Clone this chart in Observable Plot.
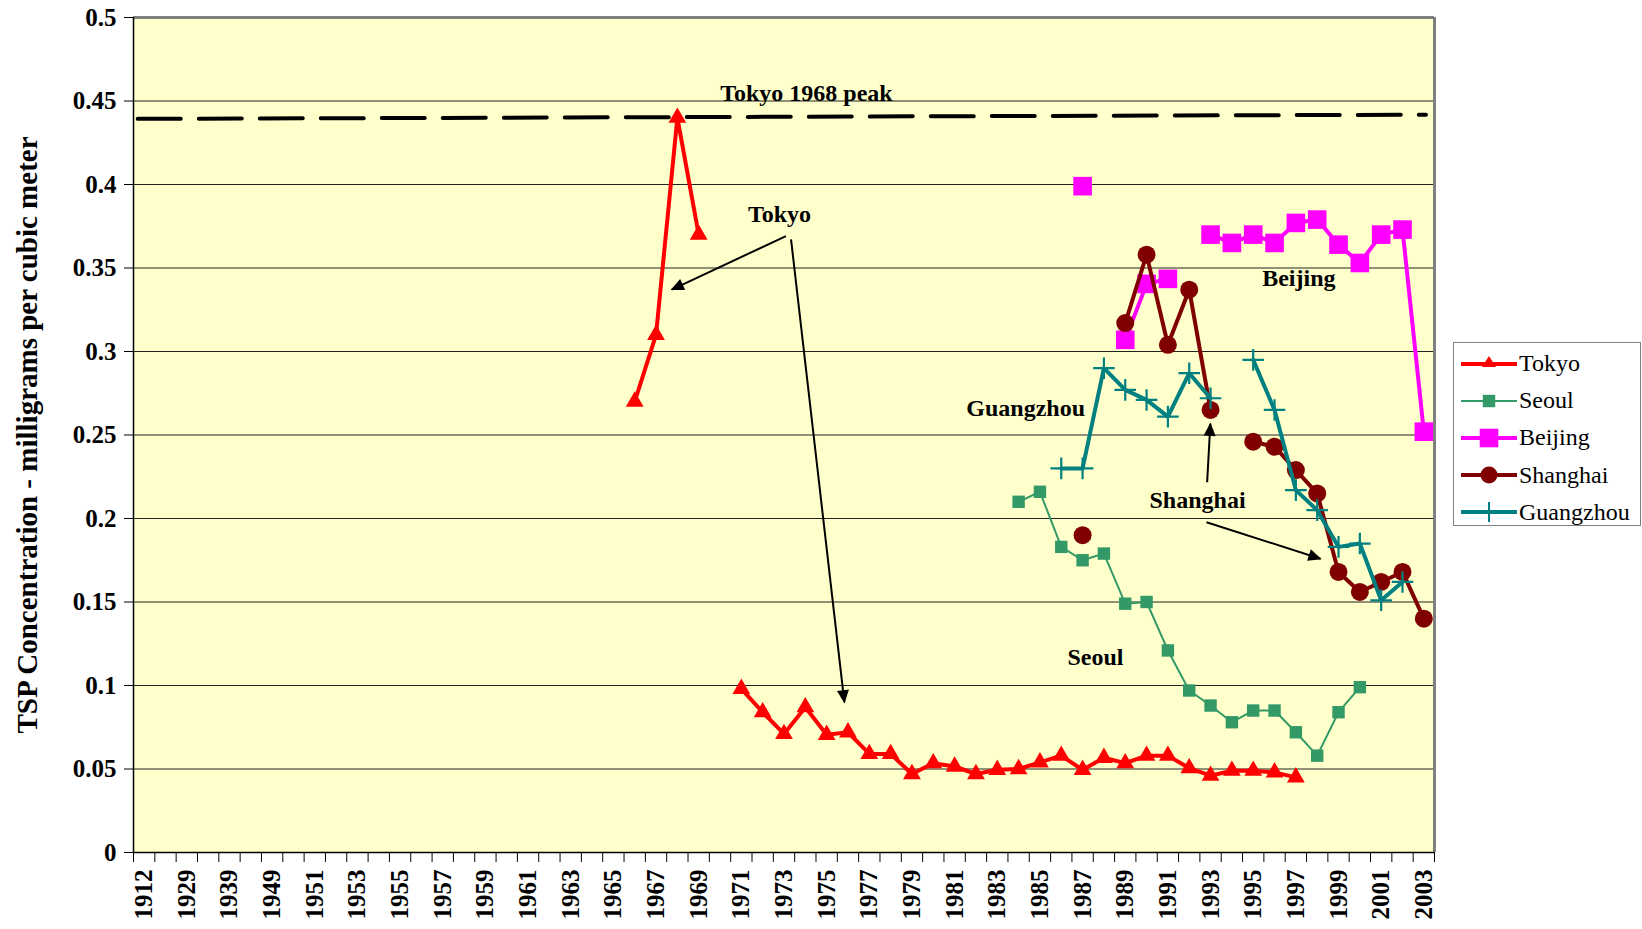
<!DOCTYPE html>
<html>
<head>
<meta charset="utf-8">
<script src="https://cdn.jsdelivr.net/npm/d3@7"></script>
<script src="https://cdn.jsdelivr.net/npm/@observablehq/plot@0.6"></script>
<style>
  body { margin: 0; background: #ffffff; }
  #wrap { position: relative; width: 1642px; height: 929px; }
  #legend {
    position: absolute; left: 1453px; top: 342px; width: 188px; height: 184px;
    box-sizing: border-box; border: 1.5px solid #808080; background: #ffffff;
    font-family: "Liberation Serif", "Times New Roman", serif; font-size: 24px; color: #000;
    padding-top: 2px;
  }
  .row { display: flex; align-items: center; height: 37.2px; }
  .row svg { margin-left: 7px; margin-right: 2px; flex: none; }
</style>
</head>
<body>
<div id="wrap"></div>
<script>
// ---------------- data ----------------
const categories = ["1912","1920","1929","1935","1939","1945","1949","1950","1951","1952","1953","1954","1955","1956","1957","1958","1959","1960","1961","1962","1963","1964","1965","1966","1967","1968","1969","1970","1971","1972","1973","1974","1975","1976","1977","1978","1979","1980","1981","1982","1983","1984","1985","1986","1987","1988","1989","1990","1991","1992","1993","1994","1995","1996","1997","1998","1999","2000","2001","2002","2003"];
const xTickLabels = ["1912","1929","1939","1949","1951","1953","1955","1957","1959","1961","1963","1965","1967","1969","1971","1973","1975","1977","1979","1981","1983","1985","1987","1989","1991","1993","1995","1997","1999","2001","2003"];
const yTicks = [0, 0.05, 0.1, 0.15, 0.2, 0.25, 0.3, 0.35, 0.4, 0.45, 0.5];
const yTickLabels = ["0","0.05","0.1","0.15","0.2","0.25","0.3","0.35","0.4","0.45","0.5"];
const yLabel = "TSP Concentration - milligrams per cubic meter";

const tokyo = [[1966,0.270],[1967,0.310],[1968,0.440],[1969,0.370],[1970,null],[1971,0.098],[1972,0.084],[1973,0.071],[1974,0.087],[1975,0.0705],[1976,0.072],[1977,0.059],[1978,0.059],[1979,0.047],[1980,0.0535],[1981,0.0515],[1982,0.047],[1983,0.0495],[1984,0.050],[1985,0.054],[1986,0.058],[1987,0.0495],[1988,0.0567],[1989,0.0535],[1990,0.058],[1991,0.058],[1992,0.0505],[1993,0.046],[1994,0.049],[1995,0.049],[1996,0.048],[1997,0.045]];
const seoul = [[1984,0.210],[1985,0.216],[1986,0.183],[1987,0.175],[1988,0.179],[1989,0.149],[1990,0.150],[1991,0.121],[1992,0.097],[1993,0.088],[1994,0.078],[1995,0.085],[1996,0.085],[1997,0.072],[1998,0.058],[1999,0.084],[2000,0.099]];
const beijing = [[1987,0.399],[1988,null],[1989,0.307],[1990,0.3405],[1991,0.3435],[1992,null],[1993,0.370],[1994,0.365],[1995,0.370],[1996,0.365],[1997,0.377],[1998,0.379],[1999,0.364],[2000,0.353],[2001,0.370],[2002,0.373],[2003,0.252]];
const shanghai = [[1987,0.190],[1988,null],[1989,0.317],[1990,0.358],[1991,0.304],[1992,0.337],[1993,0.265],[1994,null],[1995,0.246],[1996,0.243],[1997,0.229],[1998,0.215],[1999,0.168],[2000,0.156],[2001,0.162],[2002,0.168],[2003,0.140]];
const guangzhou = [[1986,0.230],[1987,0.230],[1988,0.290],[1989,0.277],[1990,0.271],[1991,0.261],[1992,0.287],[1993,0.272],[1994,null],[1995,0.295],[1996,0.265],[1997,0.217],[1998,0.205],[1999,0.183],[2000,0.185],[2001,0.151],[2002,0.162]];

// Tokyo 1968 peak reference line (category-index units, value units)
const peakLine = [{i: -0.3, v: 0.4393}, {i: 60.1, v: 0.4418}];

// annotation texts (category-index units, value units)
const notes = [
  {t: "Tokyo 1968 peak", i: 31.05, v: 0.4545},
  {t: "Tokyo", i: 29.79, v: 0.382},
  {t: "Beijing", i: 54.14, v: 0.3437},
  {t: "Guangzhou", i: 41.33, v: 0.2662},
  {t: "Shanghai", i: 49.39, v: 0.2108},
  {t: "Seoul", i: 44.6, v: 0.117}
];
const arrows = [
  {i1: 30.09, v1: 0.3691, i2: 24.74, v2: 0.3371},
  {i1: 30.33, v1: 0.3672, i2: 32.83, v2: 0.090},
  {i1: 49.84, v1: 0.2217, i2: 49.99, v2: 0.2567},
  {i1: 49.81, v1: 0.1978, i2: 55.15, v2: 0.1759}
];

const seriesStyles = [
  {name: "Tokyo", data: tokyo, color: "#FF0000", width: 4, symbol: "triangle", r: 6.6},
  {name: "Seoul", data: seoul, color: "#339966", width: 2, symbol: "square", r: 7},
  {name: "Beijing", data: beijing, color: "#FF00FF", width: 4, symbol: "square", r: 10.5},
  {name: "Shanghai", data: shanghai, color: "#800000", width: 4, symbol: "circle", r: 9},
  {name: "Guangzhou", data: guangzhou, color: "#008080", width: 4, symbol: "plus", r: 7}
];

// ---------------- chart ----------------
const serif = '"Liberation Serif", "Times New Roman", serif';
const idx = yr => categories.indexOf(String(yr));
const rows = s => s.map(([yr, v]) => ({x: idx(yr), y: v}));
const xLabelIdx = xTickLabels.map(l => categories.indexOf(l));
const xBoundaries = d3.range(-0.5, categories.length, 1);

const seriesMarks = seriesStyles.flatMap(s => {
  const d = rows(s.data);
  const dot = s.symbol === "plus"
    ? Plot.dot(d, {x: "x", y: "y", symbol: "plus", r: s.r, stroke: s.color, strokeWidth: 2.2})
    : Plot.dot(d, {x: "x", y: "y", symbol: s.symbol, r: s.r, fill: s.color, stroke: "none"});
  return [Plot.line(d, {x: "x", y: "y", stroke: s.color, strokeWidth: s.width}), dot];
});

const chart = Plot.plot({
  width: 1642,
  height: 929,
  marginLeft: 133,
  marginRight: 208,
  marginTop: 17,
  marginBottom: 77,
  style: {fontFamily: serif, fontSize: "25px", fontWeight: "bold", background: "#ffffff", color: "#000", overflow: "visible"},
  x: {type: "linear", domain: [-0.5, categories.length - 0.5]},
  y: {domain: [0, 0.5]},
  marks: [
    Plot.frame({fill: "#FFFFCC", stroke: "none"}),
    Plot.ruleY(yTicks.slice(1, -1), {stroke: "#222", strokeWidth: 1}),
    Plot.ruleY([0.5], {stroke: "#808080", strokeWidth: 3}),
    Plot.ruleX([categories.length - 0.5], {stroke: "#808080", strokeWidth: 3}),
    Plot.ruleX([-0.5], {stroke: "#000", strokeWidth: 1.5}),
    Plot.ruleY([0], {stroke: "#000", strokeWidth: 1.5}),
    Plot.axisY({ticks: yTicks, tickFormat: d => yTickLabels[yTicks.indexOf(d)], tickSize: 9, tickPadding: 8, label: null, fontSize: 25, fontFamily: serif, fontWeight: "bold"}),
    Plot.axisX({ticks: xBoundaries, tickFormat: () => "", tickSize: 10, label: null}),
    Plot.axisX({ticks: xLabelIdx, tickFormat: i => categories[i], tickSize: 0, tickRotate: -90, tickPadding: 17, label: null, fontSize: 25, fontFamily: serif, fontWeight: "bold"}),
    Plot.line(peakLine, {x: "i", y: "v", stroke: "#000", strokeWidth: 4, strokeDasharray: "43,18"}),
    ...seriesMarks,
    Plot.text(notes, {x: "i", y: "v", text: "t", fontSize: 24, fontWeight: "bold", fontFamily: serif, fill: "#000"}),
    Plot.link(arrows, {x1: "i1", y1: "v1", x2: "i2", y2: "v2", stroke: "#000", strokeWidth: 2, markerEnd: "arrow"}),
    Plot.text([yLabel], {frameAnchor: "left", textAnchor: "middle", dx: -106, rotate: -90, text: d => d, fontSize: 29, fontWeight: "bold", fontFamily: serif, fill: "#000"})
  ]
});

// filled arrowheads
chart.querySelectorAll("marker").forEach(m => {
  m.setAttribute("overflow", "visible");
  m.setAttribute("fill", "#000");
  m.setAttribute("stroke", "none");
  const p = m.querySelector("path");
  if (p) p.setAttribute("d", "M-9,-4.5L1,0L-9,4.5Z");
});

const wrap = document.getElementById("wrap");
wrap.appendChild(chart);

// ---------------- legend ----------------
const legend = document.createElement("div");
legend.id = "legend";
const ns = "http://www.w3.org/2000/svg";
seriesStyles.forEach(s => {
  const row = document.createElement("div");
  row.className = "row";
  const sw = document.createElementNS(ns, "svg");
  sw.setAttribute("width", 56); sw.setAttribute("height", 24);
  let inner = `<line x1="0" x2="56" y1="12" y2="12" stroke="${s.color}" stroke-width="${s.width}"/>`;
  if (s.symbol === "triangle") inner += `<path d="M28,4L35,15L21,15Z" fill="${s.color}"/>`;
  else if (s.symbol === "square") { const h = s.r * 0.886; inner += `<rect x="${28 - h}" y="${12 - h}" width="${2 * h}" height="${2 * h}" fill="${s.color}"/>`; }
  else if (s.symbol === "circle") inner += `<circle cx="28" cy="12" r="8.5" fill="${s.color}"/>`;
  else inner += `<line x1="28" x2="28" y1="2" y2="22" stroke="${s.color}" stroke-width="2"/>`;
  sw.innerHTML = inner;
  row.appendChild(sw);
  const t = document.createElement("span");
  t.textContent = s.name;
  row.appendChild(t);
  legend.appendChild(row);
});
wrap.appendChild(legend);
</script>
</body>
</html>
